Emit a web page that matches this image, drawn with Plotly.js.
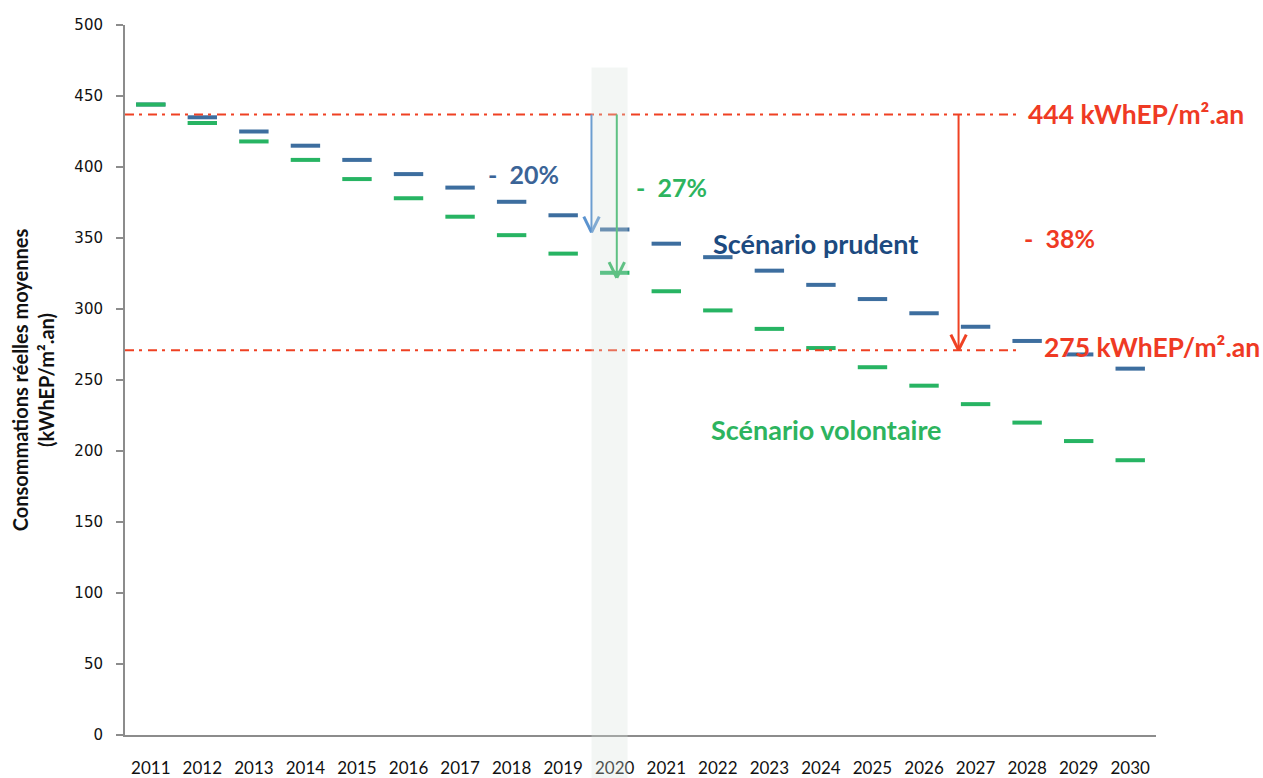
<!DOCTYPE html>
<html><head><meta charset="utf-8">
<script src="https://cdn.plot.ly/plotly-3.0.1.min.js"></script>
<style>html,body{margin:0;padding:0;background:#fff}#chart{width:1263px;height:778px}</style>
</head><body><div id="chart"></div>
<script>
const years = ['2011','2012','2013','2014','2015','2016','2017','2018','2019','2020','2021','2022','2023','2024','2025','2026','2027','2028','2029','2030'];
const prudent = [444,435,425,415,405,395,385.5,375.5,366,356,346,336.5,327,317,307,297,287.5,277.5,268,258];
const volontaire = [444,431,418,405,391.5,378,365,352,339,325.5,312.5,299,286,272.5,259,246,233,220,207,193.5];
const refHigh = 437;   // level of the upper dash-dot line
const refLow = 271;    // level of the lower dash-dot line
const arrowPrudentEnd = 354;
const arrowVolontaireEnd = 322;
const arrowGlobalEnd = 271;
const labels = {
  p20: '-\u00a0\u00a020%', p27: '-\u00a0\u00a027%', p38: '-\u00a0\u00a038%',
  prudent: 'Scénario prudent', volontaire: 'Scénario volontaire',
  high: '444 kWhEP/m².an', low: '275 kWhEP/m².an'
};

const BLUE = '#3d6e9f', GREEN = '#27b463', RED = '#ef4123';
const FONT = 'Lato, "Open Sans", sans-serif';

const traces = [
  {x: years, y: prudent, type: 'scatter', mode: 'markers', name: 'prudent',
   marker: {symbol: 'line-ew', size: 21, line: {width: 4, color: BLUE}}, hoverinfo: 'y'},
  {x: years, y: volontaire, type: 'scatter', mode: 'markers', name: 'volontaire',
   marker: {symbol: 'line-ew', size: 21, line: {width: 4, color: GREEN}}, hoverinfo: 'y'}
];

function arrow(x, yTop, yEnd, color, w) {
  const dx = 0.15, dy = 11;
  return [
    {type: 'line', xref: 'x', yref: 'y', x0: x, x1: x, y0: yTop, y1: yEnd, line: {color: color, width: w}},
    {type: 'line', xref: 'x', yref: 'y', x0: x - dx, x1: x, y0: yEnd + dy, y1: yEnd, line: {color: color, width: 3}},
    {type: 'line', xref: 'x', yref: 'y', x0: x + dx, x1: x, y0: yEnd + dy, y1: yEnd, line: {color: color, width: 3}}
  ];
}

const shapes = [
  {type: 'line', xref: 'x', yref: 'y', x0: -0.5, x1: 16.8, y0: refHigh, y1: refHigh,
   line: {color: RED, width: 2, dash: '9px,5px,3px,6px'}},
  {type: 'line', xref: 'x', yref: 'y', x0: -0.5, x1: 16.8, y0: refLow, y1: refLow,
   line: {color: RED, width: 2, dash: '9px,5px,3px,6px'}},
  ...arrow(8.55, refHigh, arrowPrudentEnd, '#5b93cf', 2),
  ...arrow(9.04, refHigh, arrowVolontaireEnd, '#2bb35e', 2),
  ...arrow(15.67, refHigh, arrowGlobalEnd, RED, 2),
  {type: 'rect', xref: 'x', yref: 'paper', x0: 8.55, x1: 9.25, y0: -0.07, y1: 0.94,
   fillcolor: 'rgba(214,224,219,0.3)', line: {width: 0}, layer: 'above'}
];

function txt(text, x, y, color, size) {
  return {text: text, x: x, y: y, xref: 'x', yref: 'y', xanchor: 'left', yanchor: 'middle',
          showarrow: false, font: {family: FONT, size: size, color: color, weight: 'bold'}};
}

const annotations = [
  txt(labels.p20, 6.5, 395, '#3b6497', 25),
  txt(labels.p27, 9.38, 386, '#2db45e', 25),
  txt(labels.prudent, 10.86, 346, '#1c4a80', 27),
  txt(labels.volontaire, 10.82, 215, '#2db45e', 27),
  txt(labels.p38, 16.9, 350, '#ef3a24', 25),
  txt(labels.high, 16.98, 437, '#ef3a24', 26.5),
  txt(labels.low, 17.28, 273, '#ef3a24', 26.5)
];

const layout = {
  width: 1263, height: 778,
  margin: {l: 125, r: 107, t: 25, b: 43},
  paper_bgcolor: '#fff', plot_bgcolor: '#fff',
  showlegend: false,
  xaxis: {
    type: 'category', range: [-0.5, 19.5], showgrid: false, zeroline: false,
    showline: true, linecolor: '#8c8c8c', linewidth: 2, ticks: '',
    ticklabelstandoff: 17,
    tickfont: {family: FONT, size: 17, color: '#111'}
  },
  yaxis: {
    range: [0, 500], dtick: 50, showgrid: false, zeroline: false,
    showline: true, linecolor: '#8c8c8c', linewidth: 2,
    ticks: 'outside', ticklen: 7, tickcolor: '#8c8c8c', tickwidth: 2,
    ticklabelstandoff: 10,
    tickfont: {family: 'DejaVu Sans, sans-serif', size: 15, color: '#111'},
    title: {text: 'Consommations réelles moyennes<br>(kWhEP/m².an)', standoff: 14,
            font: {family: FONT, size: 20, color: '#111', weight: 'bold'}}
  },
  shapes: shapes,
  annotations: annotations
};

Plotly.newPlot('chart', traces, layout, {displayModeBar: false, staticPlot: true});
</script></body></html>
